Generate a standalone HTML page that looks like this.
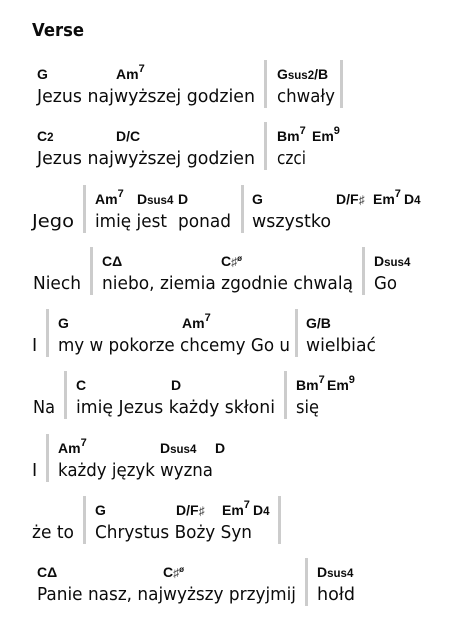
<!DOCTYPE html>
<html lang="pl">
<head>
<meta charset="utf-8">
<title>Verse</title>
<style>
html,body{margin:0;padding:0;background:#fff;width:471px;height:634px;overflow:hidden}
svg{display:block}
text{font-family:"Liberation Sans","DejaVu Sans",sans-serif;fill:#0b0b0b}
.title{font-family:"DejaVu Sans",sans-serif;font-size:18px;font-weight:bold}
.l{font-family:"DejaVu Sans",sans-serif;font-size:17.5px}
.c{font-size:14px;font-weight:bold}
.s{font-size:11.5px}
.u{font-size:11px}
.a{font-size:12px;font-weight:normal;fill:#444}
.o{font-size:8px}
rect{fill:#ccc}
</style>
</head>
<body>
<svg width="471" height="634" viewBox="0 0 471 634">
<text class="title" x="32" y="36" textLength="52" lengthAdjust="spacingAndGlyphs">Verse</text>

<g>
<rect x="264" y="60" width="3" height="48"/>
<rect x="340" y="60" width="3" height="48"/>
<text class="c" x="37" y="79">G</text>
<text class="c" x="116" y="79">Am<tspan class="u" dy="-7">7</tspan></text>
<text class="c" x="277" y="79">G<tspan class="s">sus2</tspan>/B</text>
<text class="l" x="37" y="102" textLength="218" lengthAdjust="spacingAndGlyphs">Jezus najwyższej godzien</text>
<text class="l" x="277" y="102" textLength="58" lengthAdjust="spacingAndGlyphs">chwały</text>
</g>

<g>
<rect x="264" y="122" width="3" height="48"/>
<text class="c" x="37" y="141">C<tspan class="s">2</tspan></text>
<text class="c" x="116" y="141">D/C</text>
<text class="c" x="277" y="141">Bm<tspan class="u" dy="-7">7</tspan></text>
<text class="c" x="312" y="141">Em<tspan class="u" dy="-7">9</tspan></text>
<text class="l" x="37" y="164" textLength="218" lengthAdjust="spacingAndGlyphs">Jezus najwyższej godzien</text>
<text class="l" x="277" y="164" textLength="29" lengthAdjust="spacingAndGlyphs">czci</text>
</g>

<g>
<rect x="83" y="185" width="3" height="48"/>
<rect x="241" y="185" width="3" height="48"/>
<text class="c" x="95" y="204">Am<tspan class="u" dy="-7">7</tspan></text>
<text class="c" x="137" y="204">D<tspan class="s">sus4</tspan></text>
<text class="c" x="178" y="204">D</text>
<text class="c" x="252" y="204">G</text>
<text class="c" x="336" y="204">D/F<tspan class="a">♯</tspan></text>
<text class="c" x="373" y="204">Em<tspan class="u" dy="-7">7</tspan></text>
<text class="c" x="404" y="204">D<tspan class="s">4</tspan></text>
<text class="l" x="32" y="227" textLength="42" lengthAdjust="spacingAndGlyphs">Jego</text>
<text class="l" x="95" y="227" textLength="72" lengthAdjust="spacingAndGlyphs">imię jest</text>
<text class="l" x="178" y="227" textLength="53" lengthAdjust="spacingAndGlyphs">ponad</text>
<text class="l" x="252" y="227" textLength="79" lengthAdjust="spacingAndGlyphs">wszystko</text>
</g>

<g>
<rect x="90" y="247" width="3" height="48"/>
<rect x="362" y="247" width="3" height="48"/>
<text class="c" x="102" y="266">CΔ</text>
<text class="c" x="221" y="266">C<tspan class="a">♯</tspan><tspan class="o" dy="-5">ø</tspan></text>
<text class="c" x="374" y="266">D<tspan class="s">sus4</tspan></text>
<text class="l" x="33" y="289" textLength="48" lengthAdjust="spacingAndGlyphs">Niech</text>
<text class="l" x="102" y="289" textLength="251" lengthAdjust="spacingAndGlyphs">niebo, ziemia zgodnie chwalą</text>
<text class="l" x="374" y="289" textLength="23" lengthAdjust="spacingAndGlyphs">Go</text>
</g>

<g>
<rect x="46" y="309" width="3" height="48"/>
<rect x="295" y="309" width="3" height="48"/>
<text class="c" x="58" y="328">G</text>
<text class="c" x="182" y="328">Am<tspan class="u" dy="-7">7</tspan></text>
<text class="c" x="306" y="328">G/B</text>
<text class="l" x="32" y="351">I</text>
<text class="l" x="58" y="351" textLength="232" lengthAdjust="spacingAndGlyphs">my w pokorze chcemy Go u</text>
<text class="l" x="306" y="351" textLength="70" lengthAdjust="spacingAndGlyphs">wielbiać</text>
</g>

<g>
<rect x="64" y="371" width="3" height="48"/>
<rect x="284" y="371" width="3" height="48"/>
<text class="c" x="76" y="390">C</text>
<text class="c" x="171" y="390">D</text>
<text class="c" x="296" y="390">Bm<tspan class="u" dy="-7">7</tspan></text>
<text class="c" x="327" y="390">Em<tspan class="u" dy="-7">9</tspan></text>
<text class="l" x="33" y="413" textLength="22" lengthAdjust="spacingAndGlyphs">Na</text>
<text class="l" x="76" y="413" textLength="199" lengthAdjust="spacingAndGlyphs">imię Jezus każdy skłoni</text>
<text class="l" x="296" y="413" textLength="23" lengthAdjust="spacingAndGlyphs">się</text>
</g>

<g>
<rect x="46" y="434" width="3" height="48"/>
<text class="c" x="58" y="453">Am<tspan class="u" dy="-7">7</tspan></text>
<text class="c" x="160" y="453">D<tspan class="s">sus4</tspan></text>
<text class="c" x="215" y="453">D</text>
<text class="l" x="32" y="476">I</text>
<text class="l" x="58" y="476" textLength="155" lengthAdjust="spacingAndGlyphs">każdy język wyzna</text>
</g>

<g>
<rect x="83" y="496" width="3" height="48"/>
<rect x="278" y="496" width="3" height="48"/>
<text class="c" x="95" y="515">G</text>
<text class="c" x="176" y="515">D/F<tspan class="a">♯</tspan></text>
<text class="c" x="222" y="515">Em<tspan class="u" dy="-7">7</tspan></text>
<text class="c" x="253" y="515">D<tspan class="s">4</tspan></text>
<text class="l" x="32" y="538" textLength="42" lengthAdjust="spacingAndGlyphs">że to</text>
<text class="l" x="95" y="538" textLength="157" lengthAdjust="spacingAndGlyphs">Chrystus Boży Syn</text>
</g>

<g>
<rect x="305" y="558" width="3" height="48"/>
<text class="c" x="37" y="577">CΔ</text>
<text class="c" x="163" y="577">C<tspan class="a">♯</tspan><tspan class="o" dy="-5">ø</tspan></text>
<text class="c" x="317" y="577">D<tspan class="s">sus4</tspan></text>
<text class="l" x="37" y="600" textLength="259" lengthAdjust="spacingAndGlyphs">Panie nasz, najwyższy przyjmij</text>
<text class="l" x="317" y="600" textLength="38" lengthAdjust="spacingAndGlyphs">hołd</text>
</g>
</svg>
</body>
</html>
